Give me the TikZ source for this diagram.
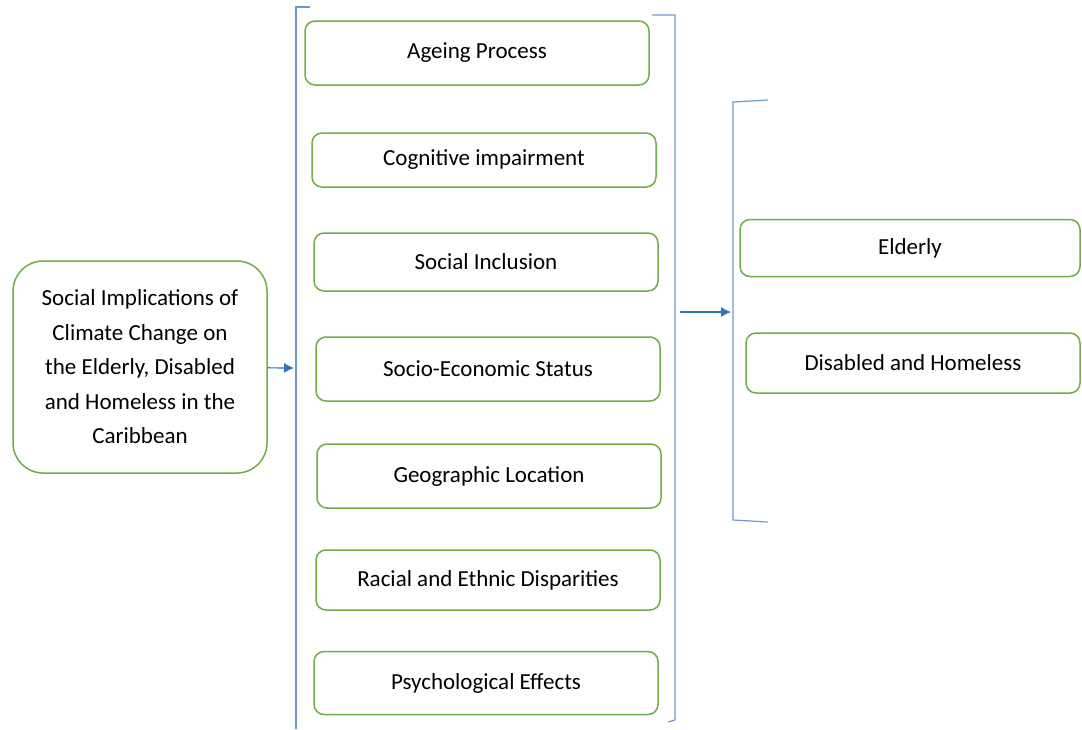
\documentclass[tikz,border=0pt]{standalone}
\usepackage{fontspec}
\setmainfont{Carlito}
\usetikzlibrary{arrows.meta}
\definecolor{boxgreen}{RGB}{112,173,71}
\definecolor{lineblue}{RGB}{110,150,210}
\definecolor{arrowblue}{RGB}{46,117,182}

\begin{document}
\begin{tikzpicture}[x=0.5pt,y=-0.5pt,
	every node/.style={black,font=\fontsize{11.5}{17.25}\selectfont},
	factor/.style={draw=boxgreen,line width=0.75pt,rounded corners=5pt,
		minimum width=172pt,minimum height=30pt,inner sep=0pt},
	bracket/.style={draw=lineblue,line width=0.6pt}]
	\useasboundingbox (0,0) rectangle (1082,729);

	\coordinate (B1) at (294,368);
	\coordinate (A2) at (680,312);
	\coordinate (B3) at (731,312);

	\node[factor,minimum width=127pt,minimum height=106pt,rounded corners=15pt,align=center] (social) at (140,367)
		{Social Implications of\\Climate Change on\\the Elderly, Disabled\\and Homeless in the\\Caribbean};

	\node[factor,minimum height=32pt] (ageing) at (477,53) {Ageing Process};
	\node[factor,minimum height=27pt] (cognitive) at (484,160) {Cognitive impairment};
	\node[factor,minimum height=29pt] (inclusion) at (486,262) {Social Inclusion};
	\node[factor,minimum height=32pt] (status) at (488,369) {Socio-Economic Status};
	\node[factor,minimum height=32pt] (location) at (489,476) {Geographic Location};
	\node[factor] (racial) at (488,580) {Racial and Ethnic Disparities};
	\node[factor,minimum height=31.5pt] (psych) at (486,683) {Psychological Effects};

	\node[factor,minimum width=170pt,minimum height=28.5pt] (elderly) at (910,248) {Elderly};
	\node[factor,minimum width=167pt] (disabled) at (913,363) {Disabled and Homeless};

	% brackets
	\draw[bracket] (310,7) -- (296,7) -- (296,729);
	\draw[bracket] (652,15) -- (675,15) -- (675,720) -- (668,722);
	\draw[bracket] (768,100) -- (733,102) -- (733,520) -- (768,522);

	\begin{scope}[-{Latex[length=5pt,width=5pt]},arrowblue,line width=0.6pt]
		\draw (social) -- (B1);
		\draw (A2) -- (B3);
	\end{scope}
\end{tikzpicture}
\end{document}
